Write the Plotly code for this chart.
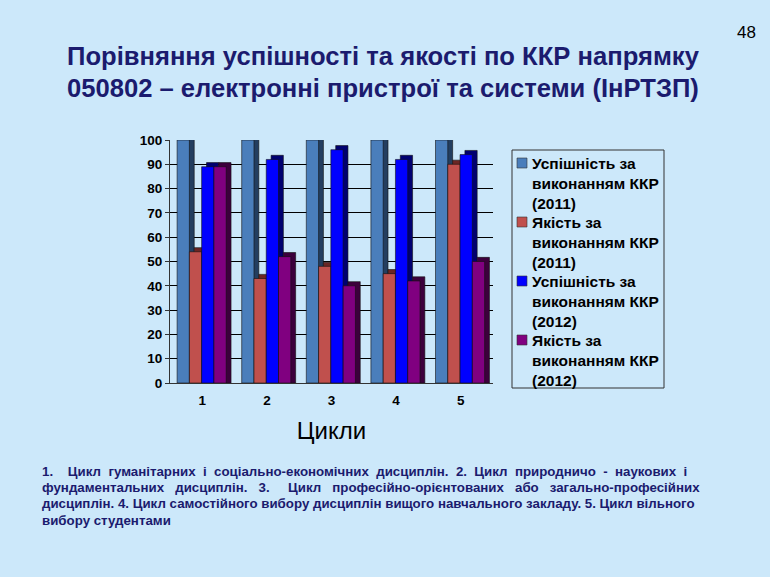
import plotly.graph_objects as go

categories = ["1", "2", "3", "4", "5"]
legend_labels = [
    "Успішність за<br>виконанням ККР<br>(2011)",
    "Якість за<br>виконанням ККР<br>(2011)",
    "Успішність за<br>виконанням ККР<br>(2012)",
    "Якість за<br>виконанням ККР<br>(2012)",
]
success_2011 = [100, 100, 100, 100, 100]
quality_2011 = [54, 43, 48, 45, 90]
success_2012 = [89, 92, 96, 92, 94]
quality_2012 = [89, 52, 40, 42, 50]
y_ticks = [0, 10, 20, 30, 40, 50, 60, 70, 80, 90, 100]

title_lines = [
    "Порівняння успішності та якості по ККР напрямку",
    "050802 – електронні пристрої та системи (ІнРТЗП)",
]
footnote_lines = [
    "1.    Цикл  гуманітарних  і  соціально-економічних  дисциплін.  2.  Цикл  природничо  -  наукових  і",
    "фундаментальних   дисциплін.   3.     Цикл   професійно-орієнтованих   або   загально-професійних",
    "дисциплін. 4. Цикл самостійного вибору дисциплін вищого навчального закладу. 5. Цикл вільного",
    "вибору студентами",
]

colors = ["#4A7EBB", "#C0504D", "#0000FF", "#800080"]
dark = ["#233E60", "#6A2624", "#000070", "#3C003C"]
bg = "#CCE8FA"
navy = "#1B1B6E"

# plot area in pixels
L, R, T, B = 170, 493, 140, 383
W, H = R - L, B - T


def px(xp):
    return (xp - L) / W


def py(yp):
    return (B - yp) / H


series = [success_2011, quality_2011, success_2012, quality_2012]
bw = 0.19
depth_x = 0.075
depth_y = 1.7

fig = go.Figure()
for i, (vals, c, d) in enumerate(zip(series, colors, dark)):
    off = -0.39 + i * bw
    fig.add_trace(go.Bar(
        x=categories, y=[v + depth_y for v in vals], width=bw, offset=off + depth_x,
        marker=dict(color=d, line=dict(color="#111111", width=0.6)), showlegend=False, hoverinfo="skip",
    ))
    fig.add_trace(go.Bar(
        x=categories, y=vals, width=bw, offset=off,
        marker=dict(color=c, line=dict(color="#111111", width=0.6)), showlegend=False,
    ))

fig.update_layout(
    width=770, height=577,
    paper_bgcolor=bg, plot_bgcolor=bg,
    margin=dict(l=L, r=770 - R, t=T, b=577 - B),
    barmode="overlay",
    font=dict(family="Liberation Sans, Arial, sans-serif", color="black"),
    showlegend=False,
    xaxis=dict(
        showgrid=False, showline=True, linecolor="#333333", ticks="outside", ticklen=5,
        tickcolor="rgba(0,0,0,0)",
        tickfont=dict(size=13.5, weight="bold"),
        title=dict(text="Цикли", font=dict(size=24), standoff=14),
    ),
    yaxis=dict(
        range=[0, 100], tickvals=y_ticks, showgrid=True, gridcolor="black", gridwidth=1,
        showline=True, linecolor="#333333", ticks="outside", ticklen=4, tickcolor="#333333",
        tickfont=dict(size=13.5, weight="bold"), zeroline=False,
    ),
)

# legend box
fig.add_shape(type="rect", xref="paper", yref="paper", x0=px(512), x1=px(664), y0=py(150), y1=py(388),
              line=dict(color="#333333", width=1), fillcolor=bg, layer="below")
item_tops = [153, 212, 271, 330]
for lab, c, top in zip(legend_labels, colors, item_tops):
    fig.add_shape(type="rect", xref="paper", yref="paper", x0=px(517), x1=px(527), y0=py(top + 15), y1=py(top + 5),
                  line=dict(color="#333333", width=0.6), fillcolor=c)
    fig.add_annotation(text=lab, xref="paper", yref="paper", x=px(530), y=py(top), xanchor="left", yanchor="top",
                       align="left", showarrow=False, font=dict(size=15.5, color="black", weight="bold"))

for i, line in enumerate(title_lines):
    fig.add_annotation(
        text=line, xref="paper", yref="paper", x=px(383), y=py(56 + 32 * i),
        xanchor="center", yanchor="middle", showarrow=False,
        font=dict(size=25.6, color=navy, weight="bold"),
    )

fig.add_annotation(
    text="48", xref="paper", yref="paper", x=px(758), y=py(32),
    xanchor="right", yanchor="middle", showarrow=False, font=dict(size=17, color="black"),
)

for i, line in enumerate(footnote_lines):
    fig.add_annotation(
        text=line, xref="paper", yref="paper", x=px(40), y=py(471 + 16.4 * i),
        xanchor="left", yanchor="middle", showarrow=False,
        font=dict(size=13.3, color=navy, weight="bold"),
    )

fig.write_html("out.html", config={"displayModeBar": False},
               post_script="document.body.style.margin='0';document.body.style.background='%s';" % bg)
